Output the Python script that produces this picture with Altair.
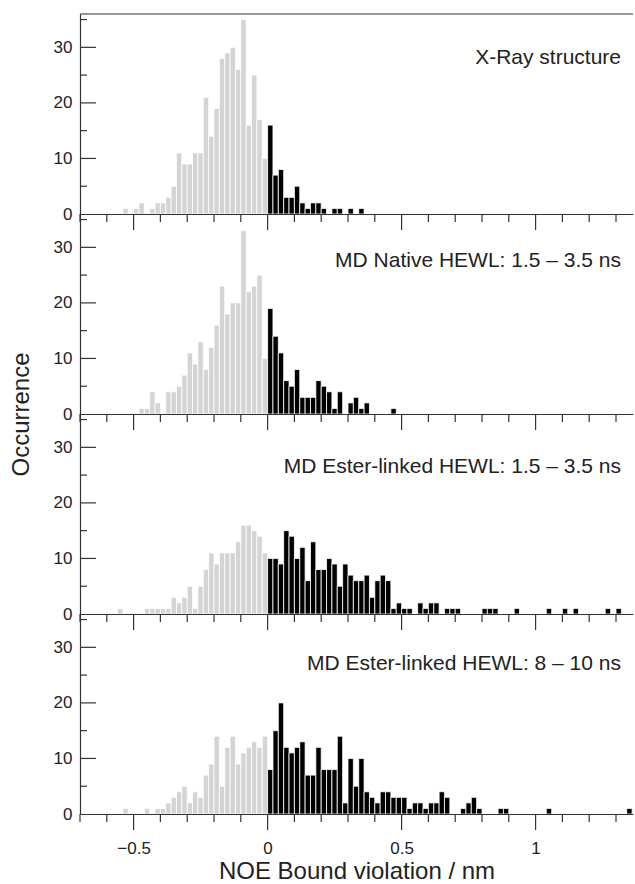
import altair as alt
import pandas as pd

FONT = "Liberation Sans"
AX = "#333333"
BIN = 0.02
NEG_START = -28  # index of first negative bin (bin k covers [k*0.02, (k+1)*0.02))

# ---- counts (bin width 0.02 nm) ----
xray_neg = [0, 1, 0, 1, 2, 0, 1, 2, 2, 3, 5, 11, 9, 9, 11, 11, 21, 14, 19, 28, 29, 30, 26, 35, 16, 25, 17, 10]
xray_pos = [16, 7, 8, 3, 3, 5, 2, 1, 2, 2, 1, 0, 1, 1, 0, 1, 0, 1]

native_neg = [0, 0, 0, 0, 1, 1, 4, 2, 0, 4, 4, 5, 7, 11, 9, 13, 8, 12, 16, 23, 18, 20, 20, 33, 22, 23, 25, 10]
native_pos = [19, 14, 11, 6, 5, 8, 3, 3, 3, 6, 5, 4, 1, 4, 0, 2, 3, 1, 2, 0, 0, 0, 0, 1]

ester1_neg = [1, 0, 0, 0, 0, 1, 1, 1, 1, 1, 3, 2, 3, 5, 1, 5, 8, 11, 9, 11, 11, 11, 13, 16, 16, 15, 14, 11]
ester1_pos = [10, 10, 9, 15, 14, 10, 12, 6, 13, 8, 8, 10, 9, 5, 9, 7, 6, 6, 7, 3, 6, 7, 6,
              1, 2, 1, 1, 0, 2, 1, 2, 2, 0, 1, 1, 1,
              0, 0, 0, 0, 1, 1, 1, 0, 0, 0, 1, 0, 0, 0, 0, 0, 1, 0, 0, 1, 0, 1,
              0, 0, 0, 0, 0, 1, 0, 1]

ester2_neg = [0, 1, 0, 0, 0, 1, 0, 1, 1, 2, 3, 4, 5, 2, 4, 3, 7, 9, 14, 5, 12, 14, 9, 11, 12, 13, 12, 14]
ester2_pos = [8, 15, 20, 12, 11, 12, 13, 7, 7, 12, 8, 8, 8, 14,
              2, 10, 5, 10, 4, 3, 2, 4, 4, 3, 3, 3, 1, 2, 2, 1, 2, 2, 4, 3,
              0, 0, 1, 2, 3, 1, 0, 0, 0, 1, 1, 0, 0, 0, 0, 0, 0, 0, 1,
              0, 0, 0, 0, 0, 0, 0, 0, 0, 0, 0, 0, 0, 0, 1]

panel_titles = [
    "X-Ray structure",
    "MD Native HEWL: 1.5 \u2013 3.5 ns",
    "MD Ester-linked HEWL: 1.5 \u2013 3.5 ns",
    "MD Ester-linked HEWL: 8 \u2013 10 ns",
]

y_labels = [0, 10, 20, 30]
y_major_inner = [10, 20, 30]
y_minor_inner = [5, 15, 25, 35]
x_labels = [-0.5, 0, 0.5, 1]
x_major = [-0.5, 0, 0.5, 1]
x_minor = [-0.7, -0.6, -0.4, -0.3, -0.2, -0.1, 0.1, 0.2, 0.3, 0.4, 0.6, 0.7, 0.8, 0.9, 1.1, 1.2, 1.3]

W, H = 553, 200
XDOM = [-0.7, -0.7 + W / 268.0]
YDOM = [0, 36]


def make_df(neg, pos):
    rows = []
    for i, c in enumerate(neg):
        k = NEG_START + i
        if c > 0:
            rows.append({"x0": round(k * BIN, 4), "x1": round((k + 1) * BIN, 4), "n": c, "side": "neg"})
    for k, c in enumerate(pos):
        if c > 0:
            rows.append({"x0": round(k * BIN, 4), "x1": round((k + 1) * BIN, 4), "n": c, "side": "pos"})
    return pd.DataFrame(rows)


def panel(neg, pos, title, title_y, bottom, ytitle):
    df = make_df(neg, pos)
    xscale = alt.Scale(domain=XDOM, nice=False, zero=False)
    yscale = alt.Scale(domain=YDOM, nice=False)

    x_axis = alt.Axis(
        values=x_labels, ticks=False, format="~g",
        domainColor=AX, domainWidth=1.2,
        grid=False, labels=bottom, labelOverlap=False, labelFlush=False,
        labelFont=FONT, labelFontSize=17, labelColor="#222", labelPadding=26,
        title="NOE Bound violation / nm" if bottom else "",
        titleFont=FONT, titleFontSize=24, titleFontWeight="normal", titleColor="#222",
        titlePadding=3, zindex=2,
    )
    y_kwargs = dict(
        values=y_labels, ticks=False, grid=False, domainColor=AX, domainWidth=1.2,
        labelFont=FONT, labelFontSize=17, labelColor="#222", labelPadding=8,
        title="Occurrence" if ytitle else "",
        titleFont=FONT, titleFontSize=24, titleFontWeight="normal", titleColor="#222",
        zindex=2,
    )
    if ytitle:
        y_kwargs.update(titleX=-59, titleY=H, titleAngle=270, titleAlign="center", titleBaseline="middle")
    y_axis = alt.Axis(**y_kwargs)

    bars = alt.Chart(df).mark_rect(stroke="white", strokeWidth=0.8).encode(
        x=alt.X("x0:Q", scale=xscale, axis=x_axis),
        x2="x1:Q",
        y=alt.Y("n:Q", scale=yscale, axis=y_axis),
        y2=alt.datum(0),
        color=alt.Color("side:N", scale=alt.Scale(domain=["neg", "pos"], range=["#d4d4d4", "#000000"]), legend=None),
    )
    ytick_major = alt.Chart(pd.DataFrame({"v": y_major_inner})).mark_rule(color=AX, strokeWidth=1.2).encode(
        y=alt.Y("v:Q", scale=yscale, axis=y_axis), x=alt.value(0), x2=alt.value(16))
    ytick_minor = alt.Chart(pd.DataFrame({"v": y_minor_inner})).mark_rule(color=AX, strokeWidth=1.2).encode(
        y=alt.Y("v:Q", scale=yscale, axis=y_axis), x=alt.value(0), x2=alt.value(7))
    xtick_major = alt.Chart(pd.DataFrame({"u": x_major})).mark_rule(color=AX, strokeWidth=1.2).encode(
        x=alt.X("u:Q", scale=xscale, axis=x_axis), y=alt.value(H), y2=alt.value(H + 16))
    xtick_minor = alt.Chart(pd.DataFrame({"u": x_minor})).mark_rule(color=AX, strokeWidth=1.2).encode(
        x=alt.X("u:Q", scale=xscale, axis=x_axis), y=alt.value(H), y2=alt.value(H + 8))
    label = alt.Chart(pd.DataFrame({"t": [title]})).mark_text(
        align="right", baseline="middle", font=FONT, fontSize=21, color="#222").encode(
        text="t:N", x=alt.value(541), y=alt.value(title_y))
    layers = [bars, ytick_major, ytick_minor, xtick_major, xtick_minor, label]
    if title == panel_titles[0]:
        top = alt.Chart(pd.DataFrame({"t": [title]})).mark_rule(color=AX, strokeWidth=1.2).encode(
            y=alt.value(0), x=alt.value(0), x2=alt.value(W))
        layers.append(top)
    return alt.layer(*layers).properties(width=W, height=H)


p1 = panel(xray_neg, xray_pos, panel_titles[0], 44, False, False)
p2 = panel(native_neg, native_pos, panel_titles[1], 47, False, True)
p3 = panel(ester1_neg, ester1_pos, panel_titles[2], 53, False, False)
p4 = panel(ester2_neg, ester2_pos, panel_titles[3], 50, True, False)

chart = alt.vconcat(p1, p2, p3, p4, spacing=0, bounds="flush").properties(
    padding={"left": 9, "top": 13, "right": 0, "bottom": 0}
).configure_view(strokeWidth=0)

chart.save("out.html", embed_options={"renderer": "svg", "actions": False})
